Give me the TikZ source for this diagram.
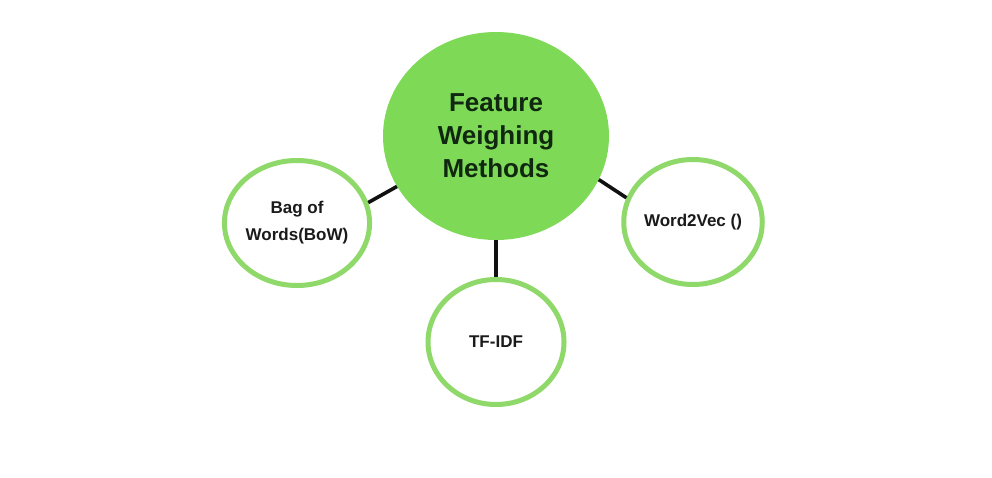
\documentclass[tikz,border=0pt]{standalone}
\usepackage{fontspec}
\setmainfont{Liberation Sans}
\usetikzlibrary{shapes.geometric}
\definecolor{maingreen}{HTML}{7ED957}
\definecolor{ringgreen}{HTML}{8FD96A}
\definecolor{darktext}{HTML}{102810}
\definecolor{smalltext}{HTML}{1A1A1A}
\definecolor{linecol}{HTML}{111111}
\tikzset{
  centerbox/.style={ellipse, fill=maingreen, draw=none, inner sep=0pt,
    minimum width=226pt, minimum height=208pt, align=center,
    text=darktext, font=\bfseries\fontsize{26}{33}\selectfont},
  ringbox/.style={ellipse, draw=ringgreen, line width=5pt, fill=white, inner sep=0pt,
    minimum width=136pt, minimum height=125pt, align=center,
    text=smalltext, font=\bfseries\fontsize{17}{27}\selectfont},
  linkline/.style={draw=linecol, line width=3.6pt}
}
\begin{document}
\begin{tikzpicture}[x=1pt,y=1pt]
\useasboundingbox[fill=white] (0,0) rectangle (992,-477);
\node[centerbox] (fw) at (496,-136) {Feature\\Weighing\\Methods};
\node[ringbox] (bow) at (297,-223) {Bag of\\Words(BoW)};
\node[ringbox] (tfidf) at (496,-342) {TF-IDF};
\node[ringbox] (w2v) at (693,-222) {Word2Vec ()};
\draw[linkline] (fw.207.5) -- (bow.16);
\draw[linkline] (fw.-23) -- (w2v.160);
\draw[linkline] (fw.south) -- (tfidf.north);
\end{tikzpicture}
\end{document}
